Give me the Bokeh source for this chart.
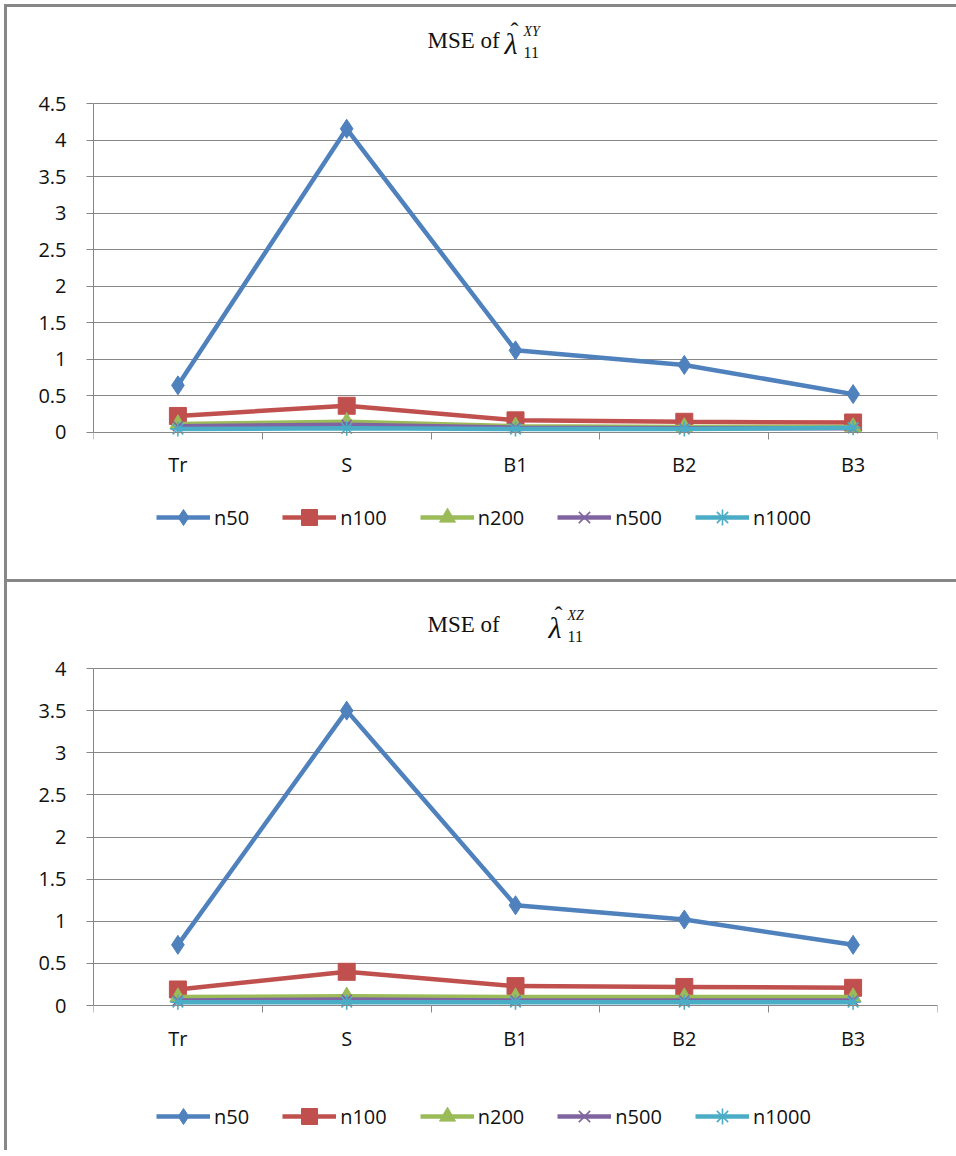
from bokeh.plotting import figure
from bokeh.layouts import column
from bokeh.models import (Range1d, FixedTicker, NumeralTickFormatter, Label,
                          Legend, LegendItem)
from bokeh.embed import file_html
from bokeh.resources import INLINE

# ---- data -------------------------------------------------------------
categories = ["Tr", "S", "B1", "B2", "B3"]
series_names = ["n50", "n100", "n200", "n500", "n1000"]

# MSE of lambda_11^XY
xy_n50 = [0.64, 4.16, 1.12, 0.92, 0.52]
xy_n100 = [0.22, 0.36, 0.16, 0.14, 0.13]
xy_n200 = [0.11, 0.14, 0.08, 0.07, 0.07]
xy_n500 = [0.08, 0.10, 0.06, 0.05, 0.05]
xy_n1000 = [0.04, 0.05, 0.04, 0.04, 0.06]

# MSE of lambda_11^XZ
xz_n50 = [0.72, 3.50, 1.19, 1.02, 0.72]
xz_n100 = [0.19, 0.40, 0.23, 0.22, 0.21]
xz_n200 = [0.10, 0.11, 0.10, 0.10, 0.10]
xz_n500 = [0.06, 0.07, 0.06, 0.06, 0.06]
xz_n1000 = [0.04, 0.04, 0.04, 0.04, 0.04]

y_ticks_xy = [0, 0.5, 1, 1.5, 2, 2.5, 3, 3.5, 4, 4.5]
y_ticks_xz = [0, 0.5, 1, 1.5, 2, 2.5, 3, 3.5, 4]

# ---- styling ----------------------------------------------------------
COLORS = ["#4F81BD", "#C0504D", "#9BBB59", "#8064A2", "#4BACC6"]
MARKERS = ["diamond", "square", "triangle", "x", "asterisk"]
MSIZE = [19, 17, 16, 14, 15]
GRAY = "#878787"
TXT = "#111111"
LABEL_FONT = "Open Sans"
SERIF = "Liberation Serif"
BORDER = f"3px solid {GRAY}"

CANVAS_W = 960         # panels run past the right page edge
VISIBLE_W = 956        # width the column lets each panel occupy
LEFT_PAD = 86          # canvas px reserved for the value axis
FRAME_W = 844          # plot-area width in px
N = len(categories)
LEG_H = 40             # legend row height (sets legend marker size)


def make_panel(series, y_ticks, sup, canvas_h, zero_px, px_per_unit,
               legend_mid, title_mid, lam_x, margin, styles):
    """All pixel rows/cols are canvas-relative (top-down)."""
    ymax = y_ticks[-1]
    # the frame spans the whole canvas height so that title and legend
    # can live inside it; the value scale is set from the pixel layout
    y_top = zero_px / px_per_unit
    y_bot = -(canvas_h - zero_px) / px_per_unit

    def dy(row):
        return (zero_px - row) / px_per_unit

    def dx(col):
        return (col - LEFT_PAD) * N / FRAME_W

    p = figure(width=CANVAS_W, height=canvas_h, output_backend="svg",
               toolbar_location=None, x_range=Range1d(0, N),
               y_range=Range1d(y_bot, y_top),
               min_border_left=LEFT_PAD,
               min_border_right=VISIBLE_W - LEFT_PAD - FRAME_W,
               min_border_top=0, min_border_bottom=0,
               margin=margin, styles=styles)
    p.outline_line_color = None
    p.background_fill_color = "white"
    p.border_fill_color = "white"

    # category axis sitting on y = 0: labels at centres, ticks between
    xpos = [i + 0.5 for i in range(N)]
    p.xaxis.fixed_location = 0
    p.xaxis.ticker = FixedTicker(ticks=xpos, minor_ticks=list(range(N + 1)))
    p.xaxis.major_label_overrides = {x: c for x, c in zip(xpos, categories)}
    p.xaxis.major_tick_line_color = None
    p.xaxis.major_tick_out = 0
    p.xaxis.major_tick_in = 0
    p.xaxis.minor_tick_line_color = GRAY
    p.xaxis.minor_tick_out = 7
    p.xaxis.minor_tick_in = 0
    p.xaxis.major_label_standoff = 12
    p.xaxis.axis_line_color = GRAY

    p.yaxis.bounds = (0, ymax)
    p.yaxis.ticker = FixedTicker(ticks=y_ticks, minor_ticks=[])
    p.yaxis.formatter = NumeralTickFormatter(format="0.[0]")
    p.yaxis.major_tick_line_color = GRAY
    p.yaxis.major_tick_out = 7
    p.yaxis.major_tick_in = 0
    p.yaxis.major_label_standoff = 20
    p.yaxis.axis_line_color = GRAY

    for ax in (p.xaxis, p.yaxis):
        ax.major_label_text_font = LABEL_FONT
        ax.major_label_text_font_size = "20px"
        ax.major_label_text_color = TXT

    p.xgrid.grid_line_color = None
    p.ygrid.grid_line_color = GRAY
    p.ygrid.grid_line_width = 1

    items = []
    for name, vals, col, mk, ms in zip(series_names, series, COLORS,
                                       MARKERS, MSIZE):
        r1 = p.line(xpos, vals, line_color=col, line_width=4.5)
        r2 = p.scatter(xpos, vals, marker=mk, size=ms, fill_color=col,
                       line_color=col,
                       line_width=1.6 if mk in ("x", "asterisk") else 1)
        items.append(LegendItem(label=name, renderers=[r1, r2]))

    legend = Legend(items=items, orientation="horizontal",
                    location=(156 - LEFT_PAD - 7,
                              canvas_h - legend_mid - LEG_H / 2),
                    glyph_width=54, glyph_height=LEG_H, label_height=20,
                    label_standoff=4, spacing=33, padding=0, margin=0,
                    border_line_color=None, background_fill_alpha=0,
                    label_text_font=LABEL_FONT, label_text_font_size="20px",
                    label_text_color=TXT)
    p.add_layout(legend)

    # title: "MSE of" followed by lambda-hat with sub/superscripts
    def put(col, row, text, size, italic=False):
        p.add_layout(Label(x=dx(col), y=dy(row), text=text, text_font=SERIF,
                           text_font_style="italic" if italic else "normal",
                           text_font_size=size, text_color=TXT,
                           text_align="left", text_baseline="middle"))

    put(420, title_mid, "MSE of", "23px")
    put(lam_x, title_mid + 3, "λ", "30px", italic=True)
    put(lam_x + 6, title_mid - 10, "ˆ", "24px")
    put(lam_x + 19, title_mid + 12, "11", "16px")
    put(lam_x + 19, title_mid - 9, sup, "14px", italic=True)
    return p


# canvases: top one starts at page row 7, bottom one at page row 585
p1 = make_panel([xy_n50, xy_n100, xy_n200, xy_n500, xy_n1000], y_ticks_xy,
                "XY", canvas_h=575, zero_px=424.5, px_per_unit=72.89,
                legend_mid=510, title_mid=33, lam_x=497,
                margin=(4, 0, 0, 4),
                styles={"border-top": BORDER, "border-left": BORDER})
p2 = make_panel([xz_n50, xz_n100, xz_n200, xz_n500, xz_n1000], y_ticks_xz,
                "XZ", canvas_h=571, zero_px=423, px_per_unit=84.25,
                legend_mid=534, title_mid=42, lam_x=541,
                margin=(0, 0, 0, 4),
                styles={"border-top": BORDER, "border-left": BORDER})

layout = column(p1, p2, spacing=0, width=956, height=1156,
                styles={"overflow": "hidden"})
open("out.html", "w").write(file_html(layout, INLINE))
